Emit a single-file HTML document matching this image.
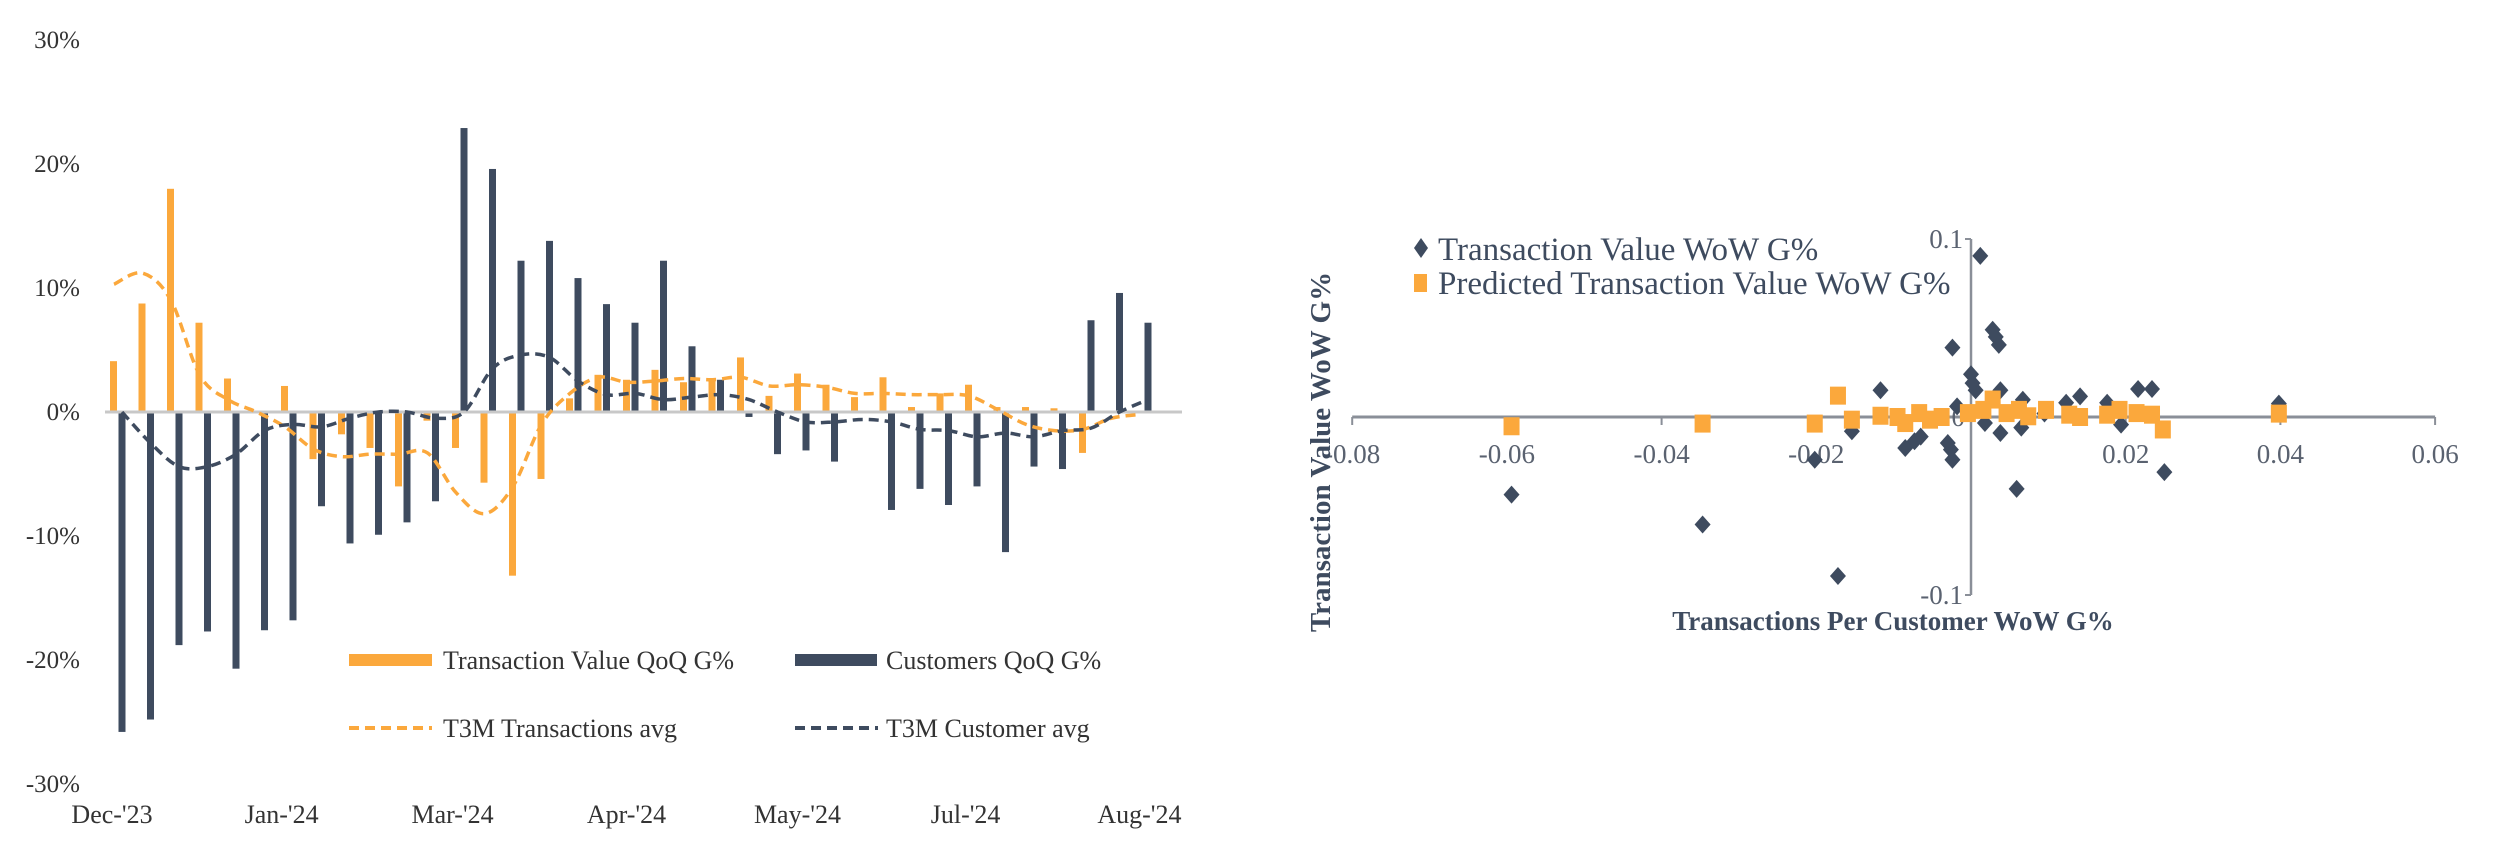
<!DOCTYPE html>
<html><head><meta charset="utf-8"><style>
html,body{margin:0;padding:0;background:#fff;}
svg{display:block;font-family:"Liberation Serif",serif;}
</style></head><body>
<svg id="root" width="2500" height="867" viewBox="0 0 2500 867" xmlns="http://www.w3.org/2000/svg">
<g id="left"></g>
<g id="right"></g>
</svg>
<script>
// ---- Left chart data ----
const txnValues = [4.1,8.75,18,7.2,2.7,0,2.1,-3.8,-1.8,-2.9,-6,-0.7,-2.9,-5.7,-13.2,-5.4,1.1,3,2.6,3.4,2.4,2.6,4.4,1.3,3.1,2.2,1.2,2.8,0.4,1.5,2.2,0.4,0.4,0.3,-3.3,0,0];
const custValues = [-25.8,-24.8,-18.8,-17.7,-20.7,-17.6,-16.8,-7.6,-10.6,-9.9,-8.9,-7.2,22.9,19.6,12.2,13.8,10.8,8.7,7.2,12.2,5.3,2.6,-0.4,-3.4,-3.1,-4,0,-7.9,-6.2,-7.5,-6,-11.3,-4.4,-4.6,7.4,9.6,7.2];
const txnAvg = [10.3,11.2,9,3,1,0,-1.2,-3,-3.6,-3.4,-3.4,-3.3,-6.5,-8.2,-6,-1,1.5,2.8,2.4,2.5,2.7,2.6,2.8,2.1,2.2,2,1.5,1.5,1.4,1.4,1.3,0.2,-1,-1.5,-1.4,-0.5,-0.2];
const custAvg = [0,-2.5,-4.4,-4.4,-3.4,-1.5,-1,-1.2,-0.5,0,0,-0.5,0,3.5,4.6,4.4,2.5,1.4,1.5,1,1.2,1.4,1,0,-0.8,-0.8,-0.6,-0.8,-1.4,-1.5,-2,-1.7,-2,-1.5,-1.3,0,1];
const yTicks = [30,20,10,0,-10,-20,-30];
const xLabels = ["Dec-'23","Jan-'24","Mar-'24","Apr-'24","May-'24","Jul-'24","Aug-'24"];
const xLabelIdx = [-0.35,5.6,11.6,17.7,23.7,29.6,35.7];

// ---- Right chart data ----
const diaX = [0.0012,0.0028,0.0032,0.0036,-0.0024,0,0.0002,0.0006,-0.0117,0.0038,0.0216,0.0234,0.0141,0.0123,0.0176,0.0067,0.0398,-0.0018,0.0095,0.0018,0.0038,0.0065,0.0194,-0.0154,-0.0065,-0.0073,-0.0085,-0.003,-0.0026,-0.0024,-0.0202,0.025,0.0059,-0.0594,-0.0347,-0.0172];
const diaY = [0.0905,0.049,0.045,0.0405,0.039,0.024,0.019,0.015,0.015,0.015,0.0157,0.0157,0.0116,0.008,0.008,0.0097,0.0075,0.006,0.002,-0.0034,-0.009,-0.006,-0.0043,-0.008,-0.011,-0.0136,-0.0174,-0.0146,-0.0183,-0.024,-0.024,-0.031,-0.0404,-0.0436,-0.0604,-0.0893];
const sqX = [-0.0594,-0.0347,-0.0202,-0.0172,-0.0154,-0.0117,-0.0095,-0.0085,-0.0067,-0.0053,-0.0038,-0.0004,0.0016,0.0028,0.0046,0.0062,0.0074,0.0097,0.0127,0.0141,0.0176,0.0192,0.0214,0.0234,0.0248,0.0398];
const sqY = [-0.0052,-0.0037,-0.0037,0.012,-0.0015,0.0007,0,-0.0034,0.0022,-0.0015,0,0.0022,0.004,0.0098,0.0022,0.004,0.0004,0.004,0.0013,0,0.0013,0.004,0.0022,0.0013,-0.007,0.0019];
const sxTicks = [-0.08,-0.06,-0.04,-0.02,0,0.02,0.04,0.06];
const sxTickText = ["-0.08","-0.06","-0.04","-0.02","0","0.02","0.04","0.06"];

const NS = "http://www.w3.org/2000/svg";
const ORANGE = "#FBA83C", DARK = "#3E4B5F", TXT = "#333";
function mk(parent, tag, attrs, text){
  const e = document.createElementNS(NS, tag);
  for (const k in attrs) e.setAttribute(k, attrs[k]);
  if (text !== undefined) e.textContent = text;
  parent.appendChild(e);
  return e;
}

// ---------- LEFT ----------
const L = document.getElementById('left');
const y0 = 412, pxPer = 12.4;
const yL = v => y0 - v * pxPer;
const xC = i => 122 + i * 28.5;

yTicks.forEach(t => {
  const e = mk(L, 'text', {x: 80, y: yL(t) + 8, 'text-anchor': 'end', 'font-size': 25, fill: TXT}, t + '%');
  
  
});
xLabels.forEach((s, i) => {
  const e = mk(L, 'text', {x: xC(xLabelIdx[i]), y: 823, 'text-anchor': 'middle', 'font-size': 26, fill: TXT}, s);
  
  
});
txnValues.forEach((v, i) => {
  const r = mk(L, 'rect', {x: xC(i) - 12, y: Math.min(yL(v), y0), width: 7, height: Math.abs(v * pxPer), fill: ORANGE});
  
  
});
custValues.forEach((v, i) => {
  const r = mk(L, 'rect', {x: xC(i) - 3.5, y: Math.min(yL(v), y0), width: 7, height: Math.abs(v * pxPer), fill: DARK});
  
  
});
const zl = mk(L, 'line', {x1: 105, x2: 1182, y1: y0, y2: y0, stroke: '#c8c8c8', 'stroke-width': 3});



function smoothPath(xs, ys){
  let d = 'M' + xs[0] + ',' + ys[0];
  for (let i = 0; i < xs.length - 1; i++){
    const x0 = xs[i-1] !== undefined ? xs[i-1] : xs[i], yy0 = ys[i-1] !== undefined ? ys[i-1] : ys[i];
    const x3 = xs[i+2] !== undefined ? xs[i+2] : xs[i+1], y3 = ys[i+2] !== undefined ? ys[i+2] : ys[i+1];
    const c1x = xs[i] + (xs[i+1] - x0) / 6, c1y = ys[i] + (ys[i+1] - yy0) / 6;
    const c2x = xs[i+1] - (x3 - xs[i]) / 6, c2y = ys[i+1] - (y3 - ys[i]) / 6;
    d += ' C' + c1x + ',' + c1y + ' ' + c2x + ',' + c2y + ' ' + xs[i+1] + ',' + ys[i+1];
  }
  return d;
}
const tp = mk(L, 'path', {d: smoothPath(txnAvg.map((v,i)=>xC(i)-8), txnAvg.map(yL)), fill: 'none', stroke: ORANGE, 'stroke-width': 3.5, 'stroke-dasharray': '10,6'});


const cp = mk(L, 'path', {d: smoothPath(custAvg.map((v,i)=>xC(i)), custAvg.map(yL)), fill: 'none', stroke: DARK, 'stroke-width': 3.5, 'stroke-dasharray': '10,6'});



// legend
const lg = mk(L, 'g', {});


const s1 = mk(lg, 'rect', {x: 349, y: 654, width: 83, height: 12, fill: ORANGE});


const t1 = mk(lg, 'text', {x: 443, y: 669, 'font-size': 26, fill: TXT}, 'Transaction Value QoQ G%');


const s2 = mk(lg, 'rect', {x: 795, y: 654, width: 82, height: 12, fill: DARK});


const t2 = mk(lg, 'text', {x: 886, y: 669, 'font-size': 26, fill: TXT}, 'Customers QoQ G%');


const s3 = mk(lg, 'line', {x1: 349, x2: 432, y1: 728, y2: 728, stroke: ORANGE, 'stroke-width': 4, 'stroke-dasharray': '10,6'});


const t3 = mk(lg, 'text', {x: 443, y: 737, 'font-size': 26, fill: TXT}, 'T3M Transactions avg');


const s4 = mk(lg, 'line', {x1: 795, x2: 878, y1: 728, y2: 728, stroke: DARK, 'stroke-width': 4, 'stroke-dasharray': '10,6'});


const t4 = mk(lg, 'text', {x: 886, y: 737, 'font-size': 26, fill: TXT}, 'T3M Customer avg');



// ---------- RIGHT ----------
const R = document.getElementById('right');
const sx = v => 1971 + v / 0.02 * 154.7;
const sy = v => 417 - v / 0.1 * 178;
const AX = '#8a8f98';
const xa = mk(R, 'line', {x1: sx(-0.08), x2: sx(0.06), y1: sy(0), y2: sy(0), stroke: AX, 'stroke-width': 3});


sxTicks.forEach((t, i) => {
  const tk = mk(R, 'line', {x1: sx(t), x2: sx(t), y1: sy(0), y2: sy(0) + 8, stroke: AX, 'stroke-width': 2});
  
  
  if (t === 0) return;
  const e = mk(R, 'text', {x: sx(t), y: 463, 'text-anchor': 'middle', 'font-size': 27, fill: '#5a6270'}, sxTickText[i]);
  
  
});
const ya = mk(R, 'line', {x1: sx(0), x2: sx(0), y1: sy(0.1), y2: sy(-0.1), stroke: AX, 'stroke-width': 2.5});


[0.1, -0.1].forEach(t => {
  const tk = mk(R, 'line', {x1: sx(0) - 6, x2: sx(0), y1: sy(t), y2: sy(t), stroke: AX, 'stroke-width': 2});
  
  
  const e = mk(R, 'text', {x: sx(0) - 8, y: sy(t) + 9, 'text-anchor': 'end', 'font-size': 27, fill: '#5a6270'}, String(t));
  
  
});
const z0 = mk(R, 'text', {x: sx(0) - 6, y: sy(0) + 9, 'text-anchor': 'end', 'font-size': 27, fill: '#5a6270'}, '0');



diaX.forEach((v, i) => {
  const cx = sx(v), cy = sy(diaY[i]);
  const p = mk(R, 'polygon', {points: (cx)+','+(cy-9)+' '+(cx+8)+','+cy+' '+cx+','+(cy+9)+' '+(cx-8)+','+cy, fill: DARK});
  
  
});
sqX.forEach((v, i) => {
  const p = mk(R, 'rect', {x: sx(v) - 8, y: sy(sqY[i]) - 9, width: 16, height: 18, fill: ORANGE});
  
  
});

const xt = mk(R, 'text', {x: 1893, y: 630, 'text-anchor': 'middle', 'font-size': 27, 'font-weight': 'bold', fill: '#3E4B5F'}, 'Transactions Per Customer WoW G%');


const yt = mk(R, 'text', {x: 0, y: 0, 'text-anchor': 'middle', 'font-size': 29, 'font-weight': 'bold', fill: '#3E4B5F', transform: 'translate(1330,452) rotate(-90)'}, 'Transaction Value WoW G%');



const rl = mk(R, 'g', {});


const ld = mk(rl, 'polygon', {points: '1421,238 1428,248 1421,258 1414,248', fill: DARK});


const lt1 = mk(rl, 'text', {x: 1438, y: 260, 'font-size': 33, fill: '#3E4B5F'}, 'Transaction Value WoW G%');


const lsq = mk(rl, 'rect', {x: 1414, y: 274, width: 13, height: 18, fill: ORANGE});


const lt2 = mk(rl, 'text', {x: 1438, y: 294, 'font-size': 33, fill: '#3E4B5F'}, 'Predicted Transaction Value WoW G%');


</script>
</body></html>
